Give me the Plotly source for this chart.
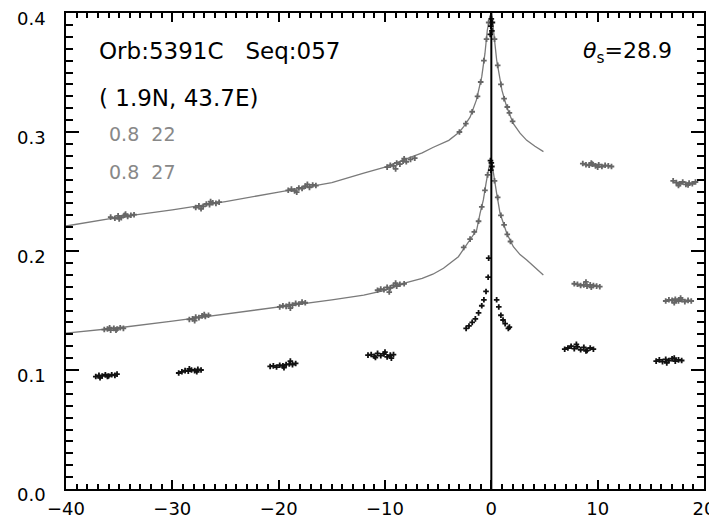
import plotly.graph_objects as go

# ---- data ----
upper_x = [-40, -35, -30, -25, -20, -15, -12, -10, -8, -6.5, -5.5, -4, -3, -2.6, -2, -1.4, -0.9, -0.6, -0.38, -0.15, 0,
           0.15, 0.5, 1.0, 1.45, 2.07, 2.7, 3.33, 4.1, 4.9]
upper_y = [0.221, 0.2285, 0.2345, 0.2415, 0.2495, 0.2575, 0.2655, 0.2705, 0.2775, 0.2825, 0.287, 0.293, 0.300, 0.3045,
           0.3125, 0.327, 0.3465, 0.366, 0.3855, 0.397, 0.400,
           0.390, 0.3605, 0.335, 0.321, 0.307, 0.299, 0.293, 0.288, 0.2835]

lower_x = [-40, -35, -30, -25, -20, -15, -12, -10, -8, -6.5, -5.5, -4.5, -3.1, -2, -1.38, -1.06, -0.75, -0.5, -0.28,
           -0.12, 0, 0.19, 0.5, 0.82, 1.45, 2.07, 2.7, 3.33, 4.1, 4.89]
lower_y = [0.131, 0.1355, 0.141, 0.147, 0.1525, 0.159, 0.163, 0.167, 0.1735, 0.177, 0.1805, 0.1855, 0.1952, 0.2092,
           0.2176, 0.2317, 0.2429, 0.2569, 0.268, 0.2755, 0.277, 0.2653, 0.2485, 0.2317, 0.2149, 0.2036, 0.197,
           0.1924, 0.186, 0.1798]

gray_x = [
    # upper clusters
    -35.8, -35.4, -35.1, -34.8, -34.5, -34.2, -33.9, -33.6, -35.0, -34.4,
    -27.8, -27.5, -27.1, -26.8, -26.5, -26.2, -25.9, -25.6, -27.3, -26.4,
    -19.1, -18.8, -18.5, -18.1, -17.8, -17.5, -17.1, -16.8, -16.5, -18.3, -17.3,
    -9.8, -9.5, -9.2, -8.9, -8.6, -8.3, -8.0, -7.6, -7.2, -9.0, -8.2,
    # lower clusters
    -36.4, -36.1, -35.8, -35.5, -35.2, -34.9, -34.6, -35.9, -35.3,
    -28.4, -28.1, -27.8, -27.5, -27.2, -26.9, -26.6, -27.9, -27.0,
    -19.9, -19.6, -19.3, -19.0, -18.7, -18.4, -18.1, -17.8, -17.5, -18.9,
    -10.7, -10.4, -10.1, -9.8, -9.5, -9.2, -8.9, -8.6, -8.2, -9.6, -9.0,
    # right clusters
    8.6, 8.9, 9.2, 9.5, 9.8, 10.1, 10.4, 10.7, 11.0, 11.3, 9.4, 10.0,
    17.1, 17.4, 17.7, 18.0, 18.3, 18.6, 18.9, 19.2, 17.6, 18.5,
    7.8, 8.1, 8.4, 8.7, 9.0, 9.3, 9.6, 9.9, 10.2, 8.9, 9.4,
    16.4, 16.7, 17.0, 17.3, 17.6, 17.9, 18.2, 18.5, 18.8, 17.2, 17.8,
    # near the peaks
    -3.0, -2.4, -1.8, -1.3, -1.0, -0.7, -0.45, -0.25, 0.3, 0.6, 0.9, 1.2, 1.5, 1.7, 2.0,
    -2.6, -2.0, -1.6, -1.2, -0.9, -0.6, -0.35, 0.3, 0.6, 0.9, 1.2, 1.5, 1.8,
]
gray_y = [
    0.2285, 0.2275, 0.2295, 0.2280, 0.2300, 0.2290, 0.2300, 0.2305, 0.2270, 0.2310,
    0.2365, 0.2380, 0.2375, 0.2395, 0.2390, 0.2405, 0.2400, 0.2410, 0.2355, 0.2415,
    0.2510, 0.2520, 0.2505, 0.2530, 0.2525, 0.2545, 0.2535, 0.2555, 0.2550, 0.2495, 0.2560,
    0.2705, 0.2720, 0.2715, 0.2740, 0.2730, 0.2755, 0.2750, 0.2770, 0.2780, 0.2690, 0.2775,
    0.1340, 0.1345, 0.1335, 0.1350, 0.1345, 0.1355, 0.1350, 0.1355, 0.1335,
    0.1425, 0.1430, 0.1445, 0.1440, 0.1455, 0.1450, 0.1460, 0.1415, 0.1465,
    0.1530, 0.1540, 0.1535, 0.1550, 0.1545, 0.1560, 0.1555, 0.1570, 0.1565, 0.1520,
    0.1670, 0.1680, 0.1675, 0.1695, 0.1690, 0.1710, 0.1705, 0.1720, 0.1725, 0.1655, 0.1730,
    0.2735, 0.2725, 0.2720, 0.2730, 0.2715, 0.2725, 0.2710, 0.2720, 0.2715, 0.2710, 0.2740, 0.2705,
    0.2590, 0.2575, 0.2565, 0.2580, 0.2560, 0.2570, 0.2565, 0.2580, 0.2550, 0.2555,
    0.1725, 0.1720, 0.1710, 0.1715, 0.1705, 0.1715, 0.1710, 0.1705, 0.1700, 0.1740, 0.1695,
    0.1580, 0.1590, 0.1585, 0.1595, 0.1580, 0.1590, 0.1575, 0.1585, 0.1580, 0.1565, 0.1605,
    0.300, 0.307, 0.317, 0.330, 0.342, 0.360, 0.378, 0.392, 0.378, 0.356, 0.340, 0.328, 0.321, 0.316, 0.309,
    0.203, 0.210, 0.216, 0.225, 0.237, 0.251, 0.264, 0.259, 0.245, 0.230, 0.222, 0.214, 0.208,
]

black_x = [
    -37.2, -36.9, -36.6, -36.3, -36.0, -35.7, -35.4, -35.2, -36.8, -36.1,
    -29.4, -29.1, -28.8, -28.5, -28.2, -27.9, -27.6, -27.3, -28.4, -27.7,
    -20.8, -20.5, -20.2, -19.9, -19.6, -19.3, -19.0, -18.7, -18.4, -19.5, -18.9,
    -11.6, -11.3, -11.0, -10.7, -10.4, -10.1, -9.8, -9.5, -9.2, -10.9, -10.0, -9.4,
    6.9, 7.2, 7.5, 7.8, 8.1, 8.4, 8.7, 9.0, 9.3, 9.6, 8.0, 8.9,
    15.5, 15.8, 16.1, 16.4, 16.7, 17.0, 17.3, 17.6, 17.9, 16.5, 17.2,
    -2.37, -2.1, -1.8, -1.5, -1.2, -0.9, -0.7, -0.5, -0.3, -0.25,
    0.5, 0.7, 0.9, 1.1, 1.3, 1.6, 1.7,
    -0.1, 0.05, -0.05, 0.1, 0.0, -0.05, 0.05, 0.0, -0.08,
]
black_y = [
    0.0945, 0.0955, 0.0950, 0.0960, 0.0950, 0.0960, 0.0955, 0.0965, 0.0935, 0.0945,
    0.0975, 0.0985, 0.0995, 0.0990, 0.1000, 0.0995, 0.1005, 0.1000, 0.1010, 0.0985,
    0.1030, 0.1035, 0.1025, 0.1040, 0.1035, 0.1045, 0.1050, 0.1045, 0.1055, 0.1020, 0.1075,
    0.1125, 0.1130, 0.1115, 0.1140, 0.1120, 0.1135, 0.1110, 0.1125, 0.1130, 0.1105, 0.1150, 0.1100,
    0.1175, 0.1185, 0.1200, 0.1180, 0.1195, 0.1170, 0.1190, 0.1165, 0.1185, 0.1175, 0.1215, 0.1160,
    0.1075, 0.1085, 0.1070, 0.1090, 0.1080, 0.1095, 0.1075, 0.1085, 0.1080, 0.1060, 0.1100,
    0.135, 0.137, 0.140, 0.143, 0.148, 0.154, 0.159, 0.166, 0.178, 0.194,
    0.159, 0.153, 0.146, 0.142, 0.139, 0.135, 0.136,
    0.382, 0.385, 0.389, 0.392, 0.395, 0.268, 0.271, 0.274, 0.276,
]

vline_x = [0, 0]
vline_y = [0.0, 0.4]

x_ticks = [-40, -30, -20, -10, 0, 10, 20]
y_ticks = [0.0, 0.1, 0.2, 0.3, 0.4]

FONT = "DejaVu Sans"
GRAY = "#7a7a7a"

fig = go.Figure()
fig.add_trace(go.Scatter(x=upper_x, y=upper_y, mode="lines", line=dict(color=GRAY, width=1.3), hoverinfo="skip"))
fig.add_trace(go.Scatter(x=lower_x, y=lower_y, mode="lines", line=dict(color=GRAY, width=1.3), hoverinfo="skip"))
fig.add_trace(go.Scatter(x=gray_x, y=gray_y, mode="markers",
                         marker=dict(symbol="cross-thin", size=4, line=dict(color="#666666", width=1.8))))
fig.add_trace(go.Scatter(x=black_x, y=black_y, mode="markers",
                         marker=dict(symbol="cross-thin", size=4, line=dict(color="#111111", width=1.8))))
fig.add_trace(go.Scatter(x=vline_x, y=vline_y, mode="lines", line=dict(color="black", width=2)))

axis_common = dict(
    showgrid=False, zeroline=False, showline=True, linecolor="black", linewidth=1.5,
    mirror="ticks", ticks="inside", tickcolor="black", tickwidth=1.5, automargin=False,
    tickfont=dict(family=FONT, size=18, color="black"), ticklabeloverflow="allow",
)
fig.update_xaxes(range=[-40, 20], tickvals=x_ticks, ticktext=[str(v) if v >= 0 else "\u2212" + str(-v) for v in x_ticks],
                 ticklen=9, minor=dict(dtick=1, ticklen=5, ticks="inside", tickcolor="black", tickwidth=1.5),
                 ticklabelstandoff=3, **axis_common)
fig.update_yaxes(range=[0, 0.4], tickvals=y_ticks, ticktext=["%.1f" % v for v in y_ticks],
                 ticklen=13, minor=dict(dtick=0.01, ticklen=7, ticks="inside", tickcolor="black", tickwidth=1.5),
                 ticklabelstandoff=15, ticklabelshift=6, **axis_common)

ann = [
    dict(text="Orb:5391C   Seq:057", x=0.048, y=0.921, size=23, color="black"),
    dict(text="( 1.9N, 43.7E)", x=0.048, y=0.821, size=23, color="black"),
    dict(text="0.8  22", x=0.065, y=0.746, size=19, color="#888888"),
    dict(text="0.8  27", x=0.065, y=0.666, size=19, color="#888888"),
    dict(text="<i>θ</i><sub>s</sub>=28.9", x=0.807, y=0.916, size=22, color="black"),
]
for a in ann:
    fig.add_annotation(text=a["text"], x=a["x"], y=a["y"], xref="paper", yref="paper",
                       xanchor="left", yanchor="middle", showarrow=False,
                       font=dict(family=FONT, size=a["size"], color=a["color"]))

# the page body adds an 8 px offset, so the figure is sized to the visible area
fig.update_layout(
    width=709, height=513, showlegend=False,
    margin=dict(l=58, r=13, t=5, b=32, autoexpand=False),
    paper_bgcolor="white", plot_bgcolor="white",
)
fig.write_html("out.html")
